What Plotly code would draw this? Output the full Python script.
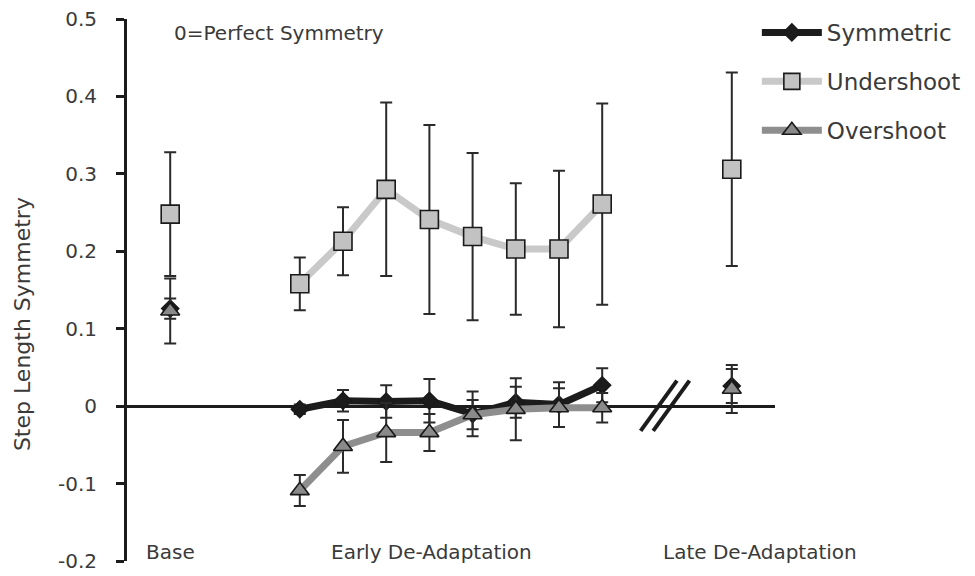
import plotly.graph_objects as go

# ---------------- data ----------------
phase_x = {"base": 0, "early": [3, 4, 5, 6, 7, 8, 9, 10], "late": 13}

sym_base, sym_base_err = 0.126, 0.013
sym_early = [-0.004, 0.007, 0.006, 0.007, -0.010, 0.005, 0.002, 0.027]
sym_early_err = [0.006, 0.014, 0.021, 0.028, 0.029, 0.020, 0.029, 0.022]
sym_late, sym_late_err = 0.026, 0.022

und_base, und_base_err = 0.248, 0.080
und_early = [0.158, 0.213, 0.280, 0.241, 0.219, 0.203, 0.203, 0.261]
und_early_err = [0.034, 0.044, 0.112, 0.122, 0.108, 0.085, 0.101, 0.130]
und_late, und_late_err = 0.306, 0.125

ovr_base, ovr_base_err = 0.123, 0.042
ovr_early = [-0.109, -0.052, -0.034, -0.034, -0.011, -0.004, -0.002, -0.002]
ovr_early_err = [0.020, 0.034, 0.038, 0.024, 0.019, 0.040, 0.025, 0.019]
ovr_late, ovr_late_err = 0.022, 0.031

series_names = ["Symmetric", "Undershoot", "Overshoot"]
phase_labels = ["Base", "Early De-Adaptation", "Late De-Adaptation"]
phase_label_x = [0, 6.04, 13.65]
y_ticks = [-0.2, -0.1, 0, 0.1, 0.2, 0.3, 0.4, 0.5]
y_ticktext = ["-0.2", "-0.1", "0", "0.1", "0.2", "0.3", "0.4", "0.5"]
break_x = 11.45

FONT = "DejaVu Sans"
TXT = "#3a3a3a"


def with_gaps(base, early, late):
    return [base, None] + list(early) + [None, late]


xs = with_gaps(phase_x["base"], phase_x["early"], phase_x["late"])

styles = {
    "Symmetric": dict(line="#1c1c1c", symbol="diamond", size=13, fill="#1c1c1c"),
    "Undershoot": dict(line="#c9c9c9", symbol="square", size=18, fill="#c2c2c2"),
    "Overshoot": dict(line="#8e8e8e", symbol="triangle-up", size=16.5, fill="#8a8a8a"),
}
values = {
    "Symmetric": (with_gaps(sym_base, sym_early, sym_late), with_gaps(sym_base_err, sym_early_err, sym_late_err)),
    "Undershoot": (with_gaps(und_base, und_early, und_late), with_gaps(und_base_err, und_early_err, und_late_err)),
    "Overshoot": (with_gaps(ovr_base, ovr_early, ovr_late), with_gaps(ovr_base_err, ovr_early_err, ovr_late_err)),
}

fig = go.Figure()
for i, name in enumerate(series_names):
    st = styles[name]
    ys, errs = values[name]
    errs = [e if e is not None else 0 for e in errs]
    fig.add_trace(go.Scatter(
        x=xs, y=ys, name=name, mode="lines+markers",
        connectgaps=False, legendgroup=name,
        line=dict(color=st["line"], width=7),
        marker=dict(symbol=st["symbol"], size=st["size"], color=st["fill"],
                    line=dict(color="#1a1a1a", width=1.6)),
        error_y=dict(type="data", array=errs, visible=True,
                     color="#2a2a2a", thickness=2, width=6),
    ))

# axis-break marks
for off in (-0.14, 0.15):
    fig.add_shape(type="line", xref="x", yref="y",
                  x0=break_x + off - 0.42, y0=-0.032,
                  x1=break_x + off + 0.42, y1=0.033,
                  line=dict(color="#1c1c1c", width=4))

for lab, lx in zip(phase_labels, phase_label_x):
    fig.add_annotation(x=lx, y=-0.189, xref="x", yref="y", text=lab,
                       showarrow=False, xanchor="center", yanchor="middle",
                       font=dict(family=FONT, size=20, color=TXT))

fig.add_annotation(x=0.05, y=0.482, xref="x", yref="y", text="0=Perfect Symmetry",
                   showarrow=False, xanchor="left", yanchor="middle",
                   font=dict(family=FONT, size=20, color=TXT))

fig.add_annotation(x=-0.162, y=0.106, xref="paper", yref="y",
                   text="Step Length Symmetry", textangle=-90,
                   showarrow=False, xanchor="center", yanchor="middle",
                   font=dict(family=FONT, size=22, color=TXT))

fig.update_layout(
    width=967, height=568,
    margin=dict(l=119, r=200, t=11, b=15, autoexpand=False),
    paper_bgcolor="white", plot_bgcolor="white",
    showlegend=True,
    legend=dict(x=0.972, y=1.0148, xanchor="left", yanchor="top",
                font=dict(family=FONT, size=23, color=TXT),
                tracegroupgap=16, itemwidth=60, traceorder="grouped",
                bgcolor="rgba(0,0,0,0)"),
    xaxis=dict(range=[-1, 14], showline=False, showgrid=False,
               zeroline=False, showticklabels=False, ticks=""),
    yaxis=dict(range=[-0.2, 0.5], showgrid=False,
               zeroline=True, zerolinecolor="#1c1c1c", zerolinewidth=3,
               showline=True, linecolor="#1c1c1c", linewidth=3,
               ticks="outside", ticklen=8, tickwidth=3, tickcolor="#1c1c1c",
               tickvals=y_ticks, ticktext=y_ticktext, ticklabelstandoff=15,
               ticklabeloverflow="allow",
               tickfont=dict(family=FONT, size=20, color=TXT)),
)

fig.write_html("out.html")
